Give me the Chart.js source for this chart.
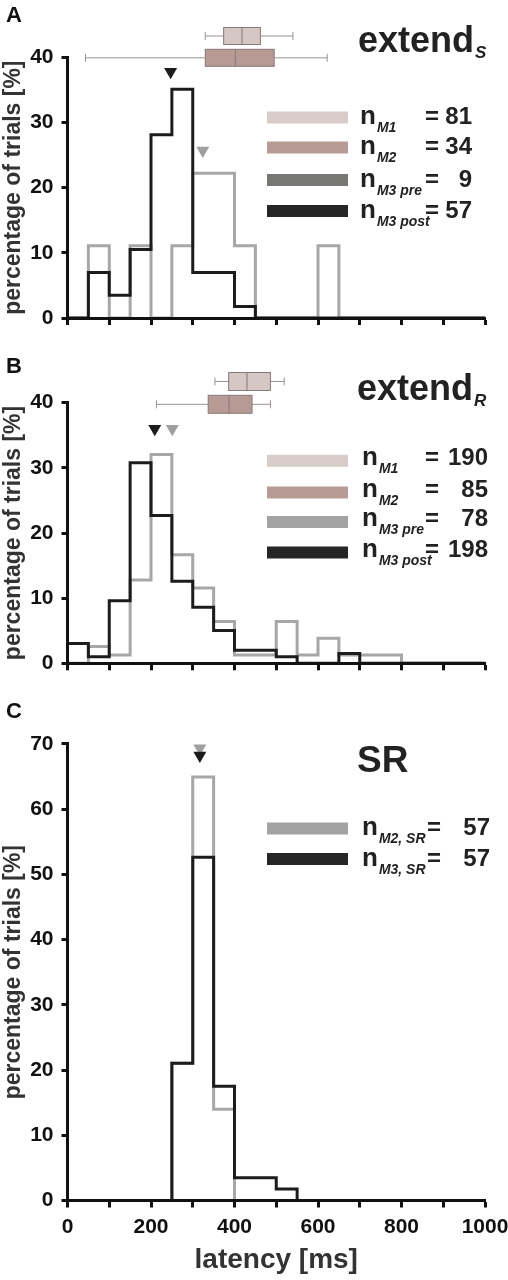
<!DOCTYPE html>
<html>
<head>
<meta charset="utf-8">
<script src="https://cdn.jsdelivr.net/npm/chart.js@4.4.1/dist/chart.umd.min.js"></script>
<style>
  html, body { margin: 0; padding: 0; background: #fff; }
  body { width: 508px; height: 1280px; position: relative; overflow: hidden; }
  canvas { position: absolute; left: 0; }
</style>
</head>
<body>
<canvas id="chartA" width="508" height="345" style="top:0px"></canvas>
<canvas id="chartB" width="508" height="345" style="top:345px"></canvas>
<canvas id="chartC" width="508" height="590" style="top:690px"></canvas>
<script>
// ---------------- DATA ----------------
const latencyBinStarts = [0, 50, 100, 150, 200, 250, 300, 350, 400, 450, 500, 550, 600, 650, 700, 750, 800, 850, 900, 950];
const latencyMax = 1000;
const xTickLabelValues = [0, 200, 400, 600, 800, 1000];

// Panel A: extend_S  (percentage of trials per 50 ms bin)
const extendS_M3post = [0, 7.0, 3.5, 10.5, 28.1, 35.1, 7.0, 7.0, 1.75, 0, 0, 0, 0, 0, 0, 0, 0, 0, 0, 0];
const extendS_M3pre  = [0, 11.1, 0, 11.1, 0, 11.1, 22.2, 22.2, 11.1, 0, 0, 0, 11.1, 0, 0, 0, 0, 0, 0, 0];
const extendS_boxM1  = [330, 374, 418, 462, 540];   // min, q1, median, q3, max [ms]
const extendS_boxM2  = [43, 330, 402, 495, 622];
const extendS_medianPost = 247;
const extendS_medianPre  = 324;
const extendS_counts = ['81', '34', '9', '57'];

// Panel B: extend_R
const extendR_M3post = [3.03, 1.01, 9.6, 30.8, 22.7, 12.6, 8.6, 5.05, 2.02, 2.02, 1.01, 0, 0, 1.52, 0, 0, 0, 0, 0, 0];
const extendR_M3pre  = [0, 2.56, 1.28, 12.8, 32.05, 16.67, 11.54, 6.41, 1.28, 1.28, 6.41, 1.28, 3.85, 1.28, 1.28, 1.28, 0, 0, 0, 0];
const extendR_boxM1  = [353, 386, 430, 486, 519];
const extendR_boxM2  = [213, 337, 387, 442, 486];
const extendR_medianPost = 209;
const extendR_medianPre  = 251;
const extendR_counts = ['190', '85', '78', '198'];

// Panel C: SR
const SR_M3 = [0, 0, 0, 0, 0, 21.05, 52.6, 17.5, 3.5, 3.5, 1.75, 0, 0, 0, 0, 0, 0, 0, 0, 0];
const SR_M2 = [0, 0, 0, 0, 0, 21.05, 64.9, 14.0, 0, 0, 0, 0, 0, 0, 0, 0, 0, 0, 0, 0];
const SR_medianM2 = 317;
const SR_medianM3 = 317;
const SR_counts = ['57', '57'];

// ---------------- STYLE ----------------
const FONT = '"Liberation Sans", Arial, Helvetica, sans-serif';
const BLACK = '#1c1c1c';
const GRAY = '#a7a7a7';
const C_M1 = '#d8ccc9';
const C_M2 = '#b89b95';
const C_PRE_DARK = '#777774';
const C_PRE_LIGHT = '#a3a3a3';
const C_POST = '#262626';

function stepPoints(vals) {
  const pts = latencyBinStarts.map((x, i) => ({ x: x, y: vals[i] }));
  pts.push({ x: latencyMax, y: 0 });
  return pts;
}

function histDataset(vals, color, order) {
  return {
    type: 'line', data: stepPoints(vals), stepped: true,
    borderColor: color, borderWidth: 3, pointRadius: 0, fill: false,
    borderJoinStyle: 'miter', borderCapStyle: 'butt', clip: false, order: order
  };
}

function markerDataset(x, y, color, order) {
  return {
    type: 'line', data: [{ x: x, y: y }], showLine: false,
    pointStyle: 'triangle', pointRotation: 180, pointRadius: 7.5,
    pointBackgroundColor: color, pointBorderWidth: 0, clip: false, order: order
  };
}

const decor = {
  id: 'decor',
  afterDraw(chart, args, o) {
    const ctx = chart.ctx, xs = chart.scales.x, area = chart.chartArea;
    ctx.save();
    ctx.textBaseline = 'alphabetic';
    ctx.textAlign = 'left';
    // panel letter
    ctx.fillStyle = '#111';
    ctx.font = 'bold 22px ' + FONT;
    ctx.fillText(o.letter, 6, o.letterY);
    // title
    ctx.fillStyle = '#222';
    ctx.font = 'bold ' + o.titleSize + 'px ' + FONT;
    ctx.fillText(o.title, o.titleX, o.titleY);
    if (o.titleSub) {
      const w = ctx.measureText(o.title).width;
      ctx.font = 'italic bold 17px ' + FONT;
      ctx.fillText(o.titleSub, o.titleX + w + 1, o.titleY + 6);
    }
    // box plots
    (o.boxes || []).forEach(b => {
      const p = b.stats.map(v => xs.getPixelForValue(v));
      const cy = area.top + b.dy, h = b.h;
      ctx.lineWidth = 1;
      ctx.strokeStyle = '#9a9291';
      ctx.beginPath();
      ctx.moveTo(p[0], cy); ctx.lineTo(p[1], cy);
      ctx.moveTo(p[3], cy); ctx.lineTo(p[4], cy);
      ctx.moveTo(p[0], cy - 4); ctx.lineTo(p[0], cy + 4);
      ctx.moveTo(p[4], cy - 4); ctx.lineTo(p[4], cy + 4);
      ctx.stroke();
      ctx.fillStyle = b.fill;
      ctx.fillRect(p[1], cy - h / 2, p[3] - p[1], h);
      ctx.strokeStyle = '#85797a';
      ctx.strokeRect(p[1], cy - h / 2, p[3] - p[1], h);
      ctx.beginPath();
      ctx.moveTo(p[2], cy - h / 2); ctx.lineTo(p[2], cy + h / 2);
      ctx.stroke();
    });
    // legend
    o.legend.forEach(r => {
      ctx.fillStyle = r.color;
      ctx.fillRect(267, r.y - 6, 81, 12);
      const by = r.y + o.legendDy;
      ctx.fillStyle = '#222';
      ctx.textAlign = 'left';
      ctx.font = 'bold 26px ' + FONT;
      ctx.fillText('n', o.nX, by);
      const nw = ctx.measureText('n').width;
      ctx.font = 'italic bold 14px ' + FONT;
      ctx.fillText(r.sub, o.nX + nw + 1, by + 8);
      ctx.font = 'bold 24px ' + FONT;
      ctx.fillText('=', o.eqX, by);
      ctx.textAlign = 'right';
      ctx.fillText(r.num, o.numRight, by);
    });
    ctx.restore();
  }
};

function makeChart(id, cfg) {
  const tickFont = { family: FONT, size: 21, weight: 'bold' };
  return new Chart(document.getElementById(id), {
    type: 'line',
    data: { datasets: cfg.datasets },
    options: {
      responsive: false, animation: false, devicePixelRatio: 1,
      layout: { padding: { top: cfg.padTop, right: 23, left: 0, bottom: 0 } },
      plugins: { legend: { display: false }, tooltip: { enabled: false }, decor: cfg.decor },
      scales: {
        x: {
          type: 'linear', min: 0, max: latencyMax, position: 'bottom',
          ticks: {
            stepSize: 100, autoSkip: false, maxRotation: 0, minRotation: 0, padding: 7,
            font: { family: FONT, size: 21, weight: 'bold' }, color: '#111',
            callback: v => (cfg.xLabels && xTickLabelValues.includes(v)) ? String(v) : ''
          },
          grid: { drawOnChartArea: false, drawTicks: true, tickLength: 7, tickWidth: 3, tickColor: '#111', z: 1 },
          border: { display: true, color: '#111', width: 3, z: 1 },
          title: cfg.xLabels ? {
            display: true, text: 'latency [ms]', color: '#333',
            font: { family: FONT, size: 28, weight: 'bold' }, padding: { top: 0, bottom: 3 }
          } : { display: false },
          afterFit: s => { s.height = cfg.xHeight; s.paddingLeft = 0; s.paddingRight = 0; }
        },
        y: {
          min: 0, max: cfg.yMax,
          ticks: { stepSize: 10, padding: 8, font: tickFont, color: '#111' },
          grid: { drawOnChartArea: false, drawTicks: true, tickLength: 6, tickWidth: 3, tickColor: '#111', z: 1 },
          border: { display: true, color: '#111', width: 3, z: 1 },
          title: {
            display: true, text: 'percentage of trials [%]', color: '#333',
            font: { family: FONT, size: 23, weight: 'bold' }, padding: { top: 0, bottom: 0 }
          },
          afterFit: s => { s.width = 67.5; s.paddingTop = 0; s.paddingBottom = 0; }
        }
      }
    },
    plugins: [decor]
  });
}

// Panel A
makeChart('chartA', {
  padTop: 57.3, xHeight: 27, yMax: 40, xLabels: false,
  datasets: [
    histDataset(extendS_M3pre, GRAY, 3),
    histDataset(extendS_M3post, BLACK, 2),
    markerDataset(extendS_medianPre, 25.7, '#a0a0a0', 1),
    markerDataset(extendS_medianPost, 37.8, BLACK, 0)
  ],
  decor: {
    letter: 'A', letterY: 22,
    title: 'extend', titleSub: 'S', titleSize: 36, titleX: 358, titleY: 51.7,
    boxes: [
      { stats: extendS_boxM1, fill: '#d5c8c4', dy: -21.3, h: 17 },
      { stats: extendS_boxM2, fill: '#b79a93', dy: 0.5, h: 17 }
    ],
    legendDy: 6.5, nX: 360, eqX: 425, numRight: 472,
    legend: [
      { color: C_M1, sub: 'M1', num: extendS_counts[0], y: 117.5 },
      { color: C_M2, sub: 'M2', num: extendS_counts[1], y: 147.5 },
      { color: C_PRE_DARK, sub: 'M3 pre', num: extendS_counts[2], y: 180 },
      { color: C_POST, sub: 'M3 post', num: extendS_counts[3], y: 211 }
    ]
  }
});

// Panel B
makeChart('chartB', {
  padTop: 57.7, xHeight: 26.7, yMax: 40, xLabels: false,
  datasets: [
    histDataset(extendR_M3pre, GRAY, 3),
    histDataset(extendR_M3post, BLACK, 2),
    markerDataset(extendR_medianPre, 36.0, '#a0a0a0', 1),
    markerDataset(extendR_medianPost, 36.0, BLACK, 0)
  ],
  decor: {
    letter: 'B', letterY: 27.7,
    title: 'extend', titleSub: 'R', titleSize: 36, titleX: 357, titleY: 55,
    boxes: [
      { stats: extendR_boxM1, fill: '#d5c8c4', dy: -21.2, h: 18 },
      { stats: extendR_boxM2, fill: '#b79a93', dy: 1.6, h: 18 }
    ],
    legendDy: 4, nX: 362, eqX: 425, numRight: 488,
    legend: [
      { color: C_M1, sub: 'M1', num: extendR_counts[0], y: 115.8 },
      { color: C_M2, sub: 'M2', num: extendR_counts[1], y: 147.5 },
      { color: C_PRE_LIGHT, sub: 'M3 pre', num: extendR_counts[2], y: 177 },
      { color: C_POST, sub: 'M3 post', num: extendR_counts[3], y: 207.5 }
    ]
  }
});

// Panel C
makeChart('chartC', {
  padTop: 53.8, xHeight: 79.5, yMax: 70, xLabels: true,
  datasets: [
    histDataset(SR_M2, GRAY, 3),
    histDataset(SR_M3, BLACK, 2),
    markerDataset(SR_medianM2, 69.3, '#a0a0a0', 1),
    markerDataset(SR_medianM3, 68.2, BLACK, 0)
  ],
  decor: {
    letter: 'C', letterY: 28,
    title: 'SR', titleSub: '', titleSize: 37, titleX: 357, titleY: 81.6,
    boxes: [],
    legendDy: 6.5, nX: 362, eqX: 427, numRight: 490,
    legend: [
      { color: C_PRE_LIGHT, sub: 'M2, SR', num: SR_counts[0], y: 138.5 },
      { color: C_POST, sub: 'M3, SR', num: SR_counts[1], y: 169 }
    ]
  }
});
</script>
</body>
</html>
